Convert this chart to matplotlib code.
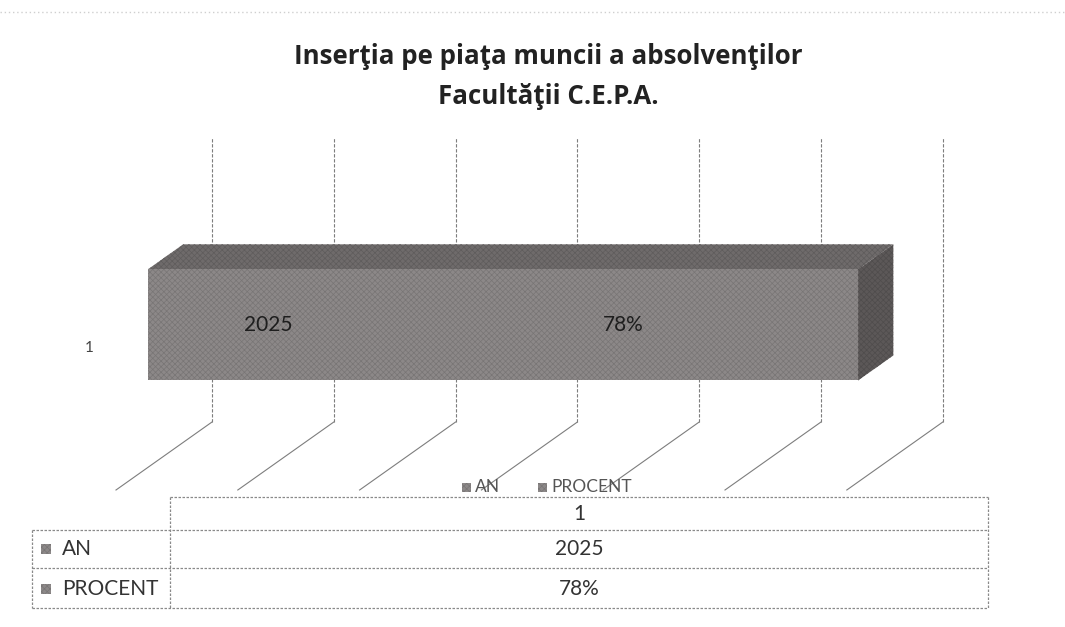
import matplotlib
matplotlib.use("Agg")
import matplotlib.pyplot as plt
from matplotlib.patches import Polygon, Rectangle

# ---------------- data ----------------
title_lines = ["Inserţia pe piaţa muncii a absolvenţilor", "Facultăţii C.E.P.A."]
categories = ["1"]
series_names = ["AN", "PROCENT"]
an_values = [2025]
procent_values = [0.78]
# segment lengths of the stacked bar on the (unlabelled) value axis
segment_lengths = [1.97, 3.86]
grid_ticks = [0, 1, 2, 3, 4, 5, 6]

value_labels = [str(an_values[0]), f"{procent_values[0]:.0%}"]

# ---------------- style / layout ----------------
plt.rcParams["hatch.linewidth"] = 0.5
W, H = 1065, 627
FONT = "Lato"
TITLE_FONT = "Open Sans"
PX0, UX = 212.0, 121.8          # back-wall x pixel of value 0, pixels per value unit
WALL_BOTTOM, UY = 422.0, 142.5  # back-wall bottom pixel row, pixels per height unit
WALL_TOP = 2.0
DEPTH_DX = -96.0 / UX
DEPTH_DY = -68.0 / UY
BAR_FRONT, BAR_BACK = 0.667, 0.30
BAR_H = 0.78
GRID_COLOR = "#7d7d7d"
front_col, top_col, side_col = "#8c8888", "#6f6b6b", "#5c5858"
HATCH = "xxxxxx"

fig = plt.figure(figsize=(W / 100, H / 100), dpi=100)
fig.patch.set_facecolor("white")
ax = fig.add_axes([0, 0, 1, 1])
ax.set_xlim(-PX0 / UX, (W - PX0) / UX)
ax.set_ylim((WALL_BOTTOM - H) / UY, WALL_BOTTOM / UY)
ax.axis("off")


def proj(v, y, d):
    return v + d * DEPTH_DX, y + d * DEPTH_DY


def fx(px):
    return px / W


def fy(py):
    return 1 - py / H


def darker(c, f=0.86):
    import matplotlib.colors as mc
    r, g, b = mc.to_rgb(c)
    return (r * f, g * f, b * f)


# gridlines (wall + floor)
for k in grid_ticks:
    x0, y0 = proj(k, 0, 0)
    x1, y1 = proj(k, 0, 1)
    ax.plot([k, k], [0, WALL_TOP], color=GRID_COLOR, lw=0.8, ls=(0, (3, 1.5)))
    ax.plot([x0, x1], [y0, y1], color=GRID_COLOR, lw=0.8)

# bar: stacked segments
yc = 1.0
yb, yt = yc - BAR_H / 2, yc + BAR_H / 2
total = sum(segment_lengths)
top = [proj(0, yt, BAR_FRONT), proj(total, yt, BAR_FRONT),
       proj(total, yt, BAR_BACK), proj(0, yt, BAR_BACK)]
ax.add_patch(Polygon(top, closed=True, facecolor=top_col, edgecolor=darker(top_col),
                     hatch=HATCH, lw=0, zorder=3))
side = [proj(total, yt, BAR_FRONT), proj(total, yt, BAR_BACK),
        proj(total, yb, BAR_BACK), proj(total, yb, BAR_FRONT)]
ax.add_patch(Polygon(side, closed=True, facecolor=side_col, edgecolor=darker(side_col),
                     hatch=HATCH, lw=0, zorder=3))
fx0, fy0 = proj(0, yb, BAR_FRONT)
ax.add_patch(Rectangle((fx0, fy0), total, BAR_H, facecolor=front_col,
                       edgecolor=darker(front_col), hatch=HATCH, lw=0, zorder=4))
start = 0.0
for i, seg in enumerate(segment_lengths):
    lx, ly = proj(start + seg / 2, yc, BAR_FRONT)
    ax.text(lx, ly, value_labels[i], ha="center", va="center", fontsize=15,
            family=FONT, color="#1e1e1e", zorder=6)
    start += seg

# category label
cx, cy = proj(0, yc, 1)
ax.annotate(categories[0], (cx, cy), xytext=(-22, 0), textcoords="offset pixels",
            ha="right", va="center", fontsize=11, family=FONT, color="#444444")

# title
fig.text(0.5145, fy(57), title_lines[0], ha="center", va="center", fontsize=18.6,
         fontweight="bold", family=TITLE_FONT, color="#222222")
fig.text(0.5145, fy(96), title_lines[1], ha="center", va="center", fontsize=18.6,
         fontweight="bold", family=TITLE_FONT, color="#222222")

# legend
leg_items = [(462, "AN"), (538, "PROCENT")]
for px, name in leg_items:
    fig.patches.append(Rectangle((fx(px), fy(492)), 9 / W, 9 / H, transform=fig.transFigure,
                                 facecolor=front_col, edgecolor=darker(front_col), lw=0,
                                 hatch=HATCH))
    fig.text(fx(px + 13), fy(487.5), name, ha="left", va="center", fontsize=12.5,
             family=FONT, color="#555555")

# data table
tl = dict(color="#8a8a8a", lw=0.9, ls=(0, (2, 1.2)), transform=fig.transFigure)
fig.lines.append(plt.Line2D([fx(170), fx(988)], [fy(497), fy(497)], **tl))
for yy in [530, 568, 608]:
    fig.lines.append(plt.Line2D([fx(32), fx(988)], [fy(yy), fy(yy)], **tl))
fig.lines.append(plt.Line2D([fx(32), fx(32)], [fy(530), fy(608)], **tl))
fig.lines.append(plt.Line2D([fx(170), fx(170)], [fy(497), fy(608)], **tl))
fig.lines.append(plt.Line2D([fx(988), fx(988)], [fy(497), fy(608)], **tl))

fig.text(fx(579), fy(514), categories[0], ha="center", va="center", fontsize=15,
         family=FONT, color="#333333")
row_centres = [549, 589]
for name, lab, yy in zip(series_names, value_labels, row_centres):
    fig.patches.append(Rectangle((fx(41), fy(yy + 5)), 10 / W, 10 / H, transform=fig.transFigure,
                                 facecolor=front_col, edgecolor=darker(front_col), lw=0,
                                 hatch=HATCH))
    fig.text(fx(62), fy(yy), name, ha="left", va="center", fontsize=15,
             family=FONT, color="#333333")
    fig.text(fx(579), fy(yy), lab, ha="center", va="center", fontsize=15,
             family=FONT, color="#333333")

# faint chart-area border of the scan
fig.lines.append(plt.Line2D([0, 1], [fy(12), fy(12)], color="#cfcfcf", lw=1.0,
                            ls=(0, (1, 2)), transform=fig.transFigure))

fig.savefig("out.png", dpi=100, facecolor="white")
